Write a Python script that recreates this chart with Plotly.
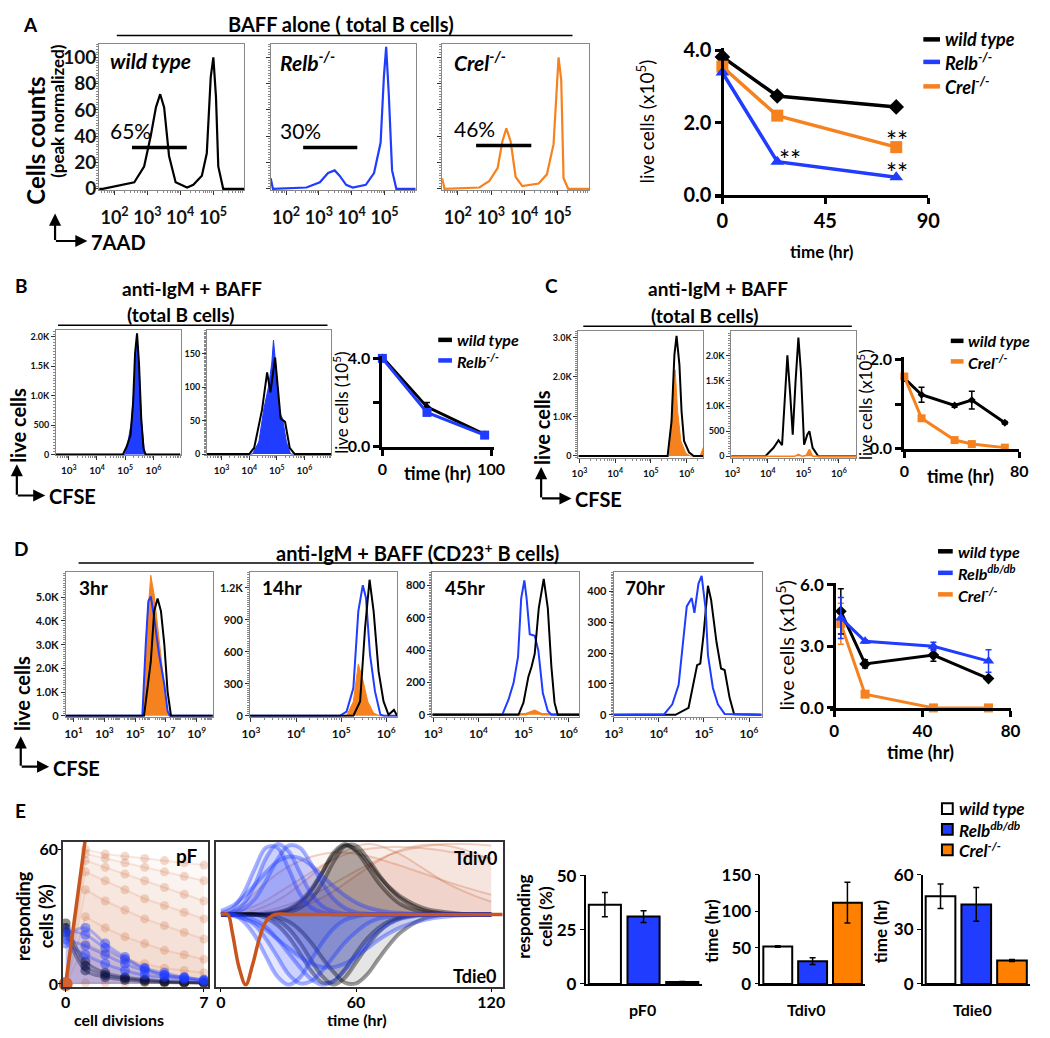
import numpy as np
import plotly.graph_objects as go

W, H = 1050, 1038
FONT = "Lato"
BLK = "#000000"
BLU = "#1f3cff"
ORG = "#f5821f"
BORG = "#ff8000"

# ======================= DATA =======================
# ---- Panel A : 7AAD histograms (x = log10 intensity, y = % of peak)
A_wt_x = [1.53, 1.64, 2.6, 2.9, 3.1, 3.26, 3.39, 3.51, 3.66, 3.86, 4.21, 4.4, 4.66, 4.81, 4.93, 5.01, 5.09, 5.16, 5.31, 5.95]
A_wt_y = [0, 0, 5, 17, 40, 62, 72, 62, 25, 5, 1, 3, 10, 27, 85, 100, 70, 17, 0, 0]
A_relb_x = [1.53, 1.6, 2.62, 3.03, 3.28, 3.48, 3.63, 3.83, 4.03, 4.43, 4.68, 4.88, 4.98, 5.05, 5.13, 5.23, 5.36, 5.95]
A_relb_y = [8, 0, 1, 5, 12, 14, 10, 3, 1, 3, 12, 35, 85, 108, 72, 14, 0, 0]
A_crel_x = [1.53, 1.6, 2.65, 2.95, 3.2, 3.34, 3.46, 3.59, 3.74, 3.94, 4.43, 4.68, 4.88, 4.98, 5.03, 5.11, 5.18, 5.32, 5.95]
A_crel_y = [8, 0, 1, 6, 16, 36, 46, 36, 9, 2, 4, 11, 34, 83, 100, 83, 8, 0, 0]
A_gate_lo = [2.53, 2.52, 2.55]
A_gate_hi = [4.20, 4.17, 4.21]
A_gate_y = [31.5, 31.5, 33]
A_pct = ["65%", "30%", "46%"]
A_geno = ["wild type", "Relb<sup>-/-</sup>", "Crel<sup>-/-</sup>"]

A_time = [0, 24, 76]
A_wt = [3.81, 2.73, 2.43]
A_relb = [3.38, 0.92, 0.49]
A_crel = [3.54, 2.19, 1.32]

# ---- Panel B : CFSE histograms + live cells
B1_wt_x = [2.55, 4.92, 5.05, 5.19, 5.28, 5.35, 5.42, 5.49, 5.57, 5.65, 5.72, 6.96]
B1_wt_y = [0, 0, 130, 330, 880, 1720, 2060, 1550, 600, 100, 0, 0]
B1_relb_x = [2.55, 5.0, 5.1, 5.22, 5.3, 5.38, 5.42, 5.49, 5.57, 5.68, 5.75, 6.96]
B1_relb_y = [0, 0, 220, 550, 1050, 1770, 1970, 1480, 600, 50, 0, 0]
B2_wt_x = [2.47, 4.0, 4.18, 4.35, 4.47, 4.65, 4.77, 4.94, 5.06, 5.14, 5.3, 5.47, 5.65, 6.98]
B2_wt_y = [0, 0, 9, 41, 67, 122, 92, 144, 92, 53, 48, 9, 0, 0]
B2_relb_x = [2.47, 4.12, 4.35, 4.53, 4.71, 4.82, 4.88, 4.98, 5.09, 5.21, 5.35, 5.5, 6.98]
B2_relb_y = [0, 0, 18, 67, 102, 136, 170, 126, 63, 53, 18, 0, 0]
B_time = [0, 41, 94]
B_wt = [4.05, 1.8, 0.55]
B_wt_err = [0, 0.2, 0.05]
B_relb = [4.0, 1.55, 0.52]

# ---- Panel C
C1_wt_x = [2.97, 5.47, 5.58, 5.66, 5.72, 5.8, 5.86, 5.93, 6.07, 6.2, 6.47]
C1_wt_y = [0, 0, 880, 2560, 3040, 2310, 1130, 380, 90, 0, 0]
C1_crel_x = [2.97, 5.52, 5.61, 5.68, 5.75, 5.84, 5.98, 6.1, 6.38, 6.47]
C1_crel_y = [0, 0, 1550, 2180, 1130, 380, 70, 0, 0, 220]
C2_wt_x = [2.97, 3.93, 4.16, 4.3, 4.4, 4.49, 4.55, 4.63, 4.7, 4.78, 4.86, 4.93, 5.02, 5.11, 5.17, 5.26, 5.42, 6.49]
C2_wt_y = [0, 0, 170, 320, 220, 1360, 2010, 1220, 430, 1490, 2360, 1690, 230, 430, 500, 170, 0, 0]
C2_crel_x = [2.97, 4.75, 4.86, 4.97, 5.08, 5.17, 5.26, 6.49]
C2_crel_y = [0, 0, 40, 0, 20, 140, 0, 0]
C_time = [0, 12, 35, 47, 70]
C_wt = [1.58, 1.21, 0.97, 1.09, 0.58]
C_wt_err = [0, 0.17, 0.04, 0.2, 0.03]
C_crel = [1.62, 0.68, 0.19, 0.10, 0.02]
C_crel_err = [0, 0.03, 0.03, 0.02, 0]

# ---- Panel D
D1_wt_x = [0.5, 5.58, 6.02, 6.24, 6.46, 6.68, 6.9, 7.11, 7.33, 10.05]
D1_wt_y = [0, 0, 2290, 4410, 4950, 4410, 3000, 1020, 0, 0]
D1_relb_x = [0.5, 5.47, 5.69, 5.86, 6.02, 6.24, 6.56, 6.9, 7.11, 7.25, 10.05]
D1_relb_y = [0, 0, 3000, 4830, 5040, 4130, 2580, 1310, 200, 0, 0]
D1_crel_x = [0.5, 5.5, 5.75, 6.02, 6.24, 6.46, 6.79, 7.07, 7.15, 10.05]
D1_crel_y = [0, 0, 3700, 5930, 5100, 3700, 1860, 170, 0, 0]
D2_wt_x = [2.98, 5.27, 5.42, 5.53, 5.63, 5.72, 5.83, 5.94, 6.05, 6.17, 6.24]
D2_wt_y = [0, 0, 134, 823, 1275, 979, 416, 134, 9, 55, 0]
D2_relb_x = [2.98, 4.97, 5.12, 5.27, 5.38, 5.48, 5.55, 5.64, 5.75, 5.87, 5.95, 6.24]
D2_relb_y = [0, 0, 40, 259, 979, 1224, 1105, 572, 228, 9, 0, 0]
D2_crel_x = [2.98, 5.12, 5.27, 5.38, 5.49, 5.59, 5.72, 5.85, 6.24]
D2_crel_y = [0, 0, 134, 486, 320, 134, 26, 0, 0]
D3_relb_x = [2.98, 4.53, 4.67, 4.78, 4.88, 4.95, 5.02, 5.07, 5.14, 5.25, 5.33, 5.43, 5.54, 5.62, 6.24]
D3_relb_y = [0, 0, 95, 196, 358, 721, 832, 721, 499, 489, 398, 135, 24, 0, 0]
D3_wt_x = [2.98, 4.89, 5.0, 5.11, 5.18, 5.25, 5.34, 5.45, 5.54, 5.62, 5.69, 5.76, 6.24]
D3_wt_y = [0, 0, 75, 236, 297, 378, 661, 842, 661, 297, 75, 0, 0]
D3_crel_x = [2.98, 5.05, 5.25, 5.4, 6.24]
D3_crel_y = [4, 4, 24, 4, 4]
D4_relb_x = [3.0, 4.12, 4.3, 4.44, 4.62, 4.73, 4.79, 4.88, 4.95, 5.04, 5.09, 5.2, 5.31, 5.46, 6.28]
D4_relb_y = [0, 2, 34, 97, 351, 378, 330, 425, 450, 341, 193, 87, 34, 3, 0]
D4_wt_x = [3.0, 4.37, 4.66, 4.77, 4.85, 4.92, 4.99, 5.09, 5.16, 5.28, 5.38, 5.46, 5.57, 5.67, 6.28]
D4_wt_y = [0, 0, 23, 108, 161, 166, 256, 418, 372, 235, 150, 145, 55, 2, 0]
D_hours = ["3hr", "14hr", "45hr", "70hr"]
D_time = [3, 14, 45, 70]
D_wt = [4.7, 2.14, 2.57, 1.43]
D_wt_err = [1.1, 0.2, 0.3, 0.05]
D_relb = [4.38, 3.24, 3.0, 2.28]
D_relb_err = [1.0, 0.08, 0.2, 0.55]
D_crel = [4.1, 0.67, 0.0, 0.0]
D_crel_err = [1.0, 0.05, 0, 0]

# ---- Panel E : model fits (representative trajectories)
E_div = [0, 1, 2, 3, 4, 5, 6, 7]
E_pf_crel = [[0, 60, 58, 57, 56, 55, 54, 53], [0, 58, 56, 54, 52, 50, 48, 46],
             [0, 55, 52, 49, 46, 43, 40, 37], [0, 50, 46, 42, 38, 35, 32, 29],
             [0, 42, 37, 33, 29, 26, 23, 20], [0, 30, 25, 21, 18, 15, 13, 11],
             [0, 18, 14, 11, 9, 7, 6, 5], [0, 0.5, 0.5, 0.5, 0.5, 0.5, 0.5, 0.5]]
E_pf_crel_med = [0, 65, 65, 65, 65, 65, 65, 65]
E_pf_wt = [[25, 8, 4, 2.5, 1.5, 1, 0.7, 0.5], [27, 10, 5, 3, 2, 1.2, 0.8, 0.5], [23, 6, 3, 1.8, 1, 0.7, 0.5, 0.3]]
E_pf_relb = [[22, 25, 18, 12, 7, 4, 3, 1.5], [20, 17, 13, 9, 6, 4, 2.5, 1.5],
             [24, 22, 16, 11, 7, 5, 3, 2], [18, 13, 9, 6, 4, 3, 2, 1]]
E_t = [0, 5, 10, 15, 20, 25, 30, 35, 40, 45, 50, 55, 60, 65, 70, 75, 80, 90, 100, 110, 120]
E_div_relb = [[0.02, 0.08, 0.3, 0.65, 0.95, 0.95, 0.65, 0.3, 0.1, 0.03, 0, 0, 0, 0, 0, 0, 0, 0, 0, 0, 0],
              [0, 0.03, 0.15, 0.42, 0.8, 1.0, 0.9, 0.6, 0.3, 0.12, 0.04, 0.01, 0, 0, 0, 0, 0, 0, 0, 0, 0],
              [0, 0.02, 0.08, 0.22, 0.48, 0.78, 0.98, 0.95, 0.72, 0.45, 0.22, 0.09, 0.03, 0.01, 0, 0, 0, 0, 0, 0, 0],
              [0.05, 0.12, 0.25, 0.42, 0.6, 0.75, 0.82, 0.8, 0.7, 0.55, 0.4, 0.27, 0.17, 0.1, 0.06, 0.03, 0.02, 0, 0, 0, 0]]
E_div_wt = [[0, 0, 0, 0, 0, 0.02, 0.06, 0.15, 0.33, 0.6, 0.88, 1.0, 0.9, 0.68, 0.45, 0.27, 0.14, 0.03, 0, 0, 0],
            [0, 0, 0, 0, 0, 0.01, 0.03, 0.09, 0.22, 0.45, 0.75, 0.97, 0.98, 0.8, 0.57, 0.37, 0.22, 0.06, 0.01, 0, 0],
            [0, 0, 0, 0, 0.01, 0.03, 0.08, 0.18, 0.36, 0.6, 0.85, 0.98, 0.92, 0.75, 0.55, 0.38, 0.25, 0.09, 0.03, 0, 0]]
E_div_crel = [[0, 0, 0.02, 0.06, 0.12, 0.2, 0.3, 0.42, 0.55, 0.68, 0.8, 0.9, 0.97, 1.0, 0.98, 0.92, 0.85, 0.65, 0.45, 0.3, 0.18],
              [0, 0, 0, 0.02, 0.05, 0.09, 0.14, 0.2, 0.27, 0.35, 0.44, 0.53, 0.62, 0.7, 0.78, 0.85, 0.9, 0.97, 1.0, 1.0, 0.98],
              [0, 0.05, 0.15, 0.3, 0.45, 0.58, 0.68, 0.76, 0.82, 0.86, 0.88, 0.88, 0.86, 0.83, 0.79, 0.74, 0.69, 0.58, 0.47, 0.37, 0.28],
              [0, 0, 0, 0, 0.01, 0.03, 0.06, 0.1, 0.16, 0.24, 0.33, 0.44, 0.55, 0.66, 0.76, 0.85, 0.92, 0.99, 0.98, 0.9, 0.78],
              [0, 0.02, 0.06, 0.12, 0.2, 0.3, 0.4, 0.5, 0.6, 0.7, 0.78, 0.85, 0.9, 0.93, 0.95, 0.96, 0.96, 0.94, 0.9, 0.85, 0.8]]
E_die_relb = [[0, 0, -0.05, -0.15, -0.35, -0.6, -0.85, -0.98, -0.95, -0.8, -0.6, -0.4, -0.25, -0.13, -0.06, -0.03, -0.01, 0, 0, 0, 0],
              [0, 0, -0.02, -0.08, -0.18, -0.35, -0.55, -0.75, -0.92, -1.0, -0.95, -0.8, -0.6, -0.4, -0.24, -0.13, -0.06, -0.01, 0, 0, 0],
              [0, -0.02, -0.06, -0.12, -0.22, -0.35, -0.48, -0.6, -0.7, -0.75, -0.75, -0.7, -0.6, -0.48, -0.36, -0.26, -0.18, -0.08, -0.03, -0.01, 0],
              [0, 0, -0.1, -0.3, -0.6, -0.88, -1.0, -0.9, -0.65, -0.4, -0.2, -0.08, -0.03, 0, 0, 0, 0, 0, 0, 0, 0]]
E_die_wt = [[0, 0, 0, 0, -0.02, -0.08, -0.2, -0.4, -0.65, -0.88, -1.0, -0.9, -0.68, -0.45, -0.25, -0.12, -0.05, 0, 0, 0, 0],
            [0, 0, 0, 0, -0.05, -0.15, -0.32, -0.55, -0.8, -0.97, -0.95, -0.78, -0.55, -0.34, -0.19, -0.09, -0.04, 0, 0, 0, 0],
            [0, 0, 0, 0, -0.01, -0.04, -0.1, -0.22, -0.4, -0.62, -0.82, -0.97, -0.98, -0.85, -0.63, -0.42, -0.25, -0.06, 0, 0, 0]]
E_die_crel_t = [0, 3, 5, 8, 11, 14, 17, 20, 24, 30, 125]
E_die_crel_y = [0, 0, -0.25, -0.75, -1.0, -0.72, -0.35, -0.1, 0, 0, 0]

E_params = ["pF0", "Tdiv0", "Tdie0"]
E_pF0 = [36.6, 31.1, 0.9]
E_pF0_err = [5.6, 2.7, 0.2]
E_Tdiv0 = [51.6, 31.4, 111.9]
E_Tdiv0_err = [1.0, 4.5, 28]
E_Tdie0 = [48.3, 43.8, 12.9]
E_Tdie0_err = [6.7, 9.3, 0.5]
E_legend = ["wild type", "Relb<sup>db/db</sup>", "Crel<sup>-/-</sup>"]

# ======================= HELPERS =======================
fig = go.Figure()
layout = {}
annotations = []
shapes = []
counter = [0]


def new_axes(box, xcfg, ycfg, yfree=None):
    counter[0] += 1
    n = counter[0]
    s = "" if n == 1 else str(n)
    x0, y0, x1, y1 = box
    xa = dict(domain=[x0 / W, x1 / W], anchor="y" + s, showgrid=False, zeroline=False, tickangle=0)
    ya = dict(domain=[1 - y1 / H, 1 - y0 / H], anchor="x" + s, showgrid=False, zeroline=False)
    xa.update(xcfg)
    ya.update(ycfg)
    if yfree is not None:
        ya["anchor"] = "free"
        ya["position"] = yfree / W
    layout["xaxis" + s] = xa
    layout["yaxis" + s] = ya
    return "x" + s, "y" + s


def fnt(size, bold=True, color="black"):
    return dict(family=FONT, size=size, color=color, weight="bold" if bold else "normal")


def log_minor(lo, hi):
    vals = []
    for d in range(int(np.floor(lo)), int(np.ceil(hi)) + 1):
        for k in range(2, 10):
            v = k * 10.0 ** d
            if lo <= np.log10(v) <= hi:
                vals.append(v)
    return vals


def hist_axes(box, xr, xt, yr, yt, ytt, xfs, yfs, yshow=True, standoff=2, ystandoff=0):
    xcfg = dict(type="log", range=xr, tickmode="array", tickvals=[10.0 ** e for e in xt],
                ticktext=[f"10<sup>{e}</sup>" for e in xt], ticks="outside", ticklen=4,
                tickcolor="#333", showline=True, mirror=True, linecolor="#888", linewidth=1,
                tickfont=fnt(xfs, True, "#111"), ticklabelstandoff=standoff,
                minor=dict(tickmode="array", tickvals=log_minor(*xr), ticks="outside", ticklen=2, tickcolor="#888"))
    ycfg = dict(range=yr, tickmode="array", tickvals=yt, ticktext=ytt, showticklabels=yshow,
                ticks="outside", ticklen=4, tickcolor="#333", showline=True, mirror=True,
                linecolor="#888", linewidth=1, tickfont=fnt(yfs, True, "#111"), ticklabelstandoff=ystandoff,
                minor=dict(ticks="outside", ticklen=2, tickcolor="#888", nticks=20))
    return new_axes(box, xcfg, ycfg)


def line_axes(box, xr, xt, xtt, yr, yt, ytt, fs, yfree=None, lw=3):
    common = dict(showline=True, linewidth=lw, linecolor="black", ticks="outside", ticklen=6,
                  tickwidth=lw, tickcolor="black", tickfont=fnt(fs), tickmode="array")
    xcfg = dict(range=xr, tickvals=xt, ticktext=xtt, **common)
    ycfg = dict(range=yr, tickvals=yt, ticktext=ytt, **common)
    return new_axes(box, xcfg, ycfg, yfree)


def text(t, x, y, size, bold=True, italic=False, xanchor="center", yanchor="middle", angle=0, color="black"):
    if italic:
        t = f"<i>{t}</i>"
    annotations.append(dict(text=t, x=x / W, y=1 - y / H, xref="paper", yref="paper", showarrow=False,
                            xanchor=xanchor, yanchor=yanchor, textangle=angle, font=fnt(size, bold, color)))


def hline(x0, x1, y, width=1.5, color="black"):
    shapes.append(dict(type="line", xref="paper", yref="paper", x0=x0 / W, x1=x1 / W,
                       y0=1 - y / H, y1=1 - y / H, line=dict(color=color, width=width)))


def axis_arrows(cx, cy, top, right, label):
    annotations.append(dict(text="", x=cx / W, y=1 - top / H, xref="paper", yref="paper", showarrow=True,
                            ax=0, ay=cy - top, arrowhead=2, arrowsize=1.1, arrowwidth=2.2, arrowcolor="black"))
    annotations.append(dict(text="", x=right / W, y=1 - cy / H, xref="paper", yref="paper", showarrow=True,
                            ax=cx - right, ay=0, arrowhead=2, arrowsize=1.1, arrowwidth=2.2, arrowcolor="black"))
    text(label, right + 2, cy + 1, 20, xanchor="left")


def lx(v):
    return [10.0 ** e for e in v]


def curve(xa, ya, xs, ys, color, width=2, fill=None):
    kw = dict(x=lx(xs), y=ys, mode="lines", line=dict(color=color, width=width), xaxis=xa, yaxis=ya,
              showlegend=False, hoverinfo="skip")
    if fill:
        kw.update(fill="tozeroy", fillcolor=fill)
    fig.add_trace(go.Scatter(**kw))


def legend_line(x0, x1, y, color, label, size=17):
    hline(x0, x1, y, width=4.5, color=color)
    text(label, x1 + 3, y, size, italic=True, xanchor="left")


# ======================= PANEL A =======================
text("A", 22, 14, 19)
text("BAFF alone ( total B cells)", 339, 13, 20)
hline(110, 575, 25)
text("Cells counts", 27, 132, 24, angle=-90)
text("(peak normalized)", 50, 102, 17, angle=-90)
axis_arrows(47, 235, 207, 80, "7AAD")

A_boxes = [(92, 34, 240, 183), (267, 34, 415, 183), (442, 34, 592, 183)]
A_curves = [(A_wt_x, A_wt_y, BLK), (A_relb_x, A_relb_y, BLU), (A_crel_x, A_crel_y, ORG)]
A_pct_pos = [(124, 122), (297, 122), (475, 120)]
A_lab_x = [101, 274, 452]
for i in range(3):
    xa, ya = hist_axes(A_boxes[i], [1.53, 5.95], [2, 3, 4, 5], [-1, 110], [0, 20, 40, 60, 80, 100],
                       ["0", "20", "40", "60", "80", "100"], 18, 19, yshow=(i == 0), standoff=7, ystandoff=-6)
    cx, cy, col = A_curves[i]
    curve(xa, ya, cx, cy, col, 2.2)
    fig.add_trace(go.Scatter(x=lx([A_gate_lo[i], A_gate_hi[i]]), y=[A_gate_y[i]] * 2, mode="lines",
                             line=dict(color="black", width=3.5), xaxis=xa, yaxis=ya, showlegend=False))
    text(A_pct[i], A_pct_pos[i][0], A_pct_pos[i][1], 21, bold=False)
    text(A_geno[i], A_lab_x[i], 51, 21, italic=True, xanchor="left")

xa, ya = line_axes((720, 38, 938, 188), [-3.4, 90], [0, 45, 90], ["0", "45", "90"],
                   [0, 4.05], [0, 2, 4], ["0.0", "2.0", "4.0"], 20, yfree=728)
for vals, col, sym in [(A_wt, BLK, "diamond"), (A_crel, ORG, "square"), (A_relb, BLU, "triangle-up")]:
    fig.add_trace(go.Scatter(x=A_time, y=vals, mode="lines+markers", line=dict(color=col, width=3.5),
                             marker=dict(symbol=sym, size=12, color=col), cliponaxis=False,
                             xaxis=xa, yaxis=ya, showlegend=False))
text("live cells (x10<sup>5</sup>)", 650, 113, 19, bold=False, angle=-90)
text("time (hr)", 830, 246, 17)
for (sx, sy) in [(797, 147), (906, 128), (906, 161)]:
    text("**", sx, sy + 5, 26, bold=False)
legend_line(933, 950, 29, BLK, "wild type", 18)
legend_line(933, 950, 52, BLU, "Relb<sup>-/-</sup>", 18)
legend_line(933, 950, 77, ORG, "Crel<sup>-/-</sup>", 18)

# ======================= PANEL B =======================
text("B", 13, 280, 19)
text("anti-IgM + BAFF", 187, 283, 19)
text("(total B cells)", 175, 310, 19)
hline(50, 325, 321)
text("live cells", 9, 423, 20, angle=-90)
axis_arrows(8, 495, 463, 37, "CFSE")

xa, ya = hist_axes((48, 326, 175, 454), [2.55, 6.96], [3, 4, 5, 6], [-17, 2117],
                   [0, 500, 1000, 1500, 2000], ["0", "500", "1.0K", "1.5K", "2.0K"], 10, 9)
curve(xa, ya, B1_relb_x, B1_relb_y, BLU, 1, fill=BLU)
curve(xa, ya, B1_wt_x, B1_wt_y, BLK, 2)
xa, ya = hist_axes((202, 326, 329, 454), [2.47, 6.98], [3, 4, 5, 6], [-2, 185],
                   [0, 50, 100, 150], ["0", "50", "100", "150"], 10, 9)
curve(xa, ya, B2_relb_x, B2_relb_y, BLU, 1, fill=BLU)
curve(xa, ya, B2_wt_x, B2_wt_y, BLK, 2)

xa, ya = line_axes((381, 352, 495, 445), [0, 102.7], [0, 100], ["0", "100"],
                   [0, 4.13], [0, 2, 4], ["0.0", "", "4.0"], 16)
fig.add_trace(go.Scatter(x=B_time, y=B_wt, mode="lines+markers", line=dict(color=BLK, width=3),
                         marker=dict(symbol="diamond", size=6, color=BLK), cliponaxis=False,
                         error_y=dict(type="data", array=B_wt_err, color=BLK, thickness=1.5, width=3),
                         xaxis=xa, yaxis=ya, showlegend=False))
fig.add_trace(go.Scatter(x=B_time, y=B_relb, mode="lines+markers", line=dict(color=BLU, width=3),
                         marker=dict(symbol="square", size=9, color=BLU), cliponaxis=False,
                         xaxis=xa, yaxis=ya, showlegend=False))
text("live cells (10<sup>5</sup>)", 338, 400, 17, bold=False, angle=-90)
text("time (hr)", 437, 472, 18)
legend_line(438, 452, 336, BLK, "wild type", 16)
legend_line(438, 452, 357, BLU, "Relb<sup>-/-</sup>", 16)

# ======================= PANEL C =======================
text("C", 554, 280, 19)
text("anti-IgM + BAFF", 723, 284, 19)
text("(total B cells)", 710, 311, 19)
hline(586, 860, 322)
text("live cells", 544, 426, 20, angle=-90)
axis_arrows(543, 498, 466, 574, "CFSE")

xa, ya = hist_axes((581, 327, 708.5, 457), [2.97, 6.47], [3, 4, 5, 6], [-60, 3160],
                   [0, 1000, 2000, 3000], ["0", "1.0K", "2.0K", "3.0K"], 10, 9)
curve(xa, ya, C1_crel_x, C1_crel_y, ORG, 1, fill=ORG)
curve(xa, ya, C1_wt_x, C1_wt_y, BLK, 2)
xa, ya = hist_axes((737, 327, 864.6, 457), [2.97, 6.49], [3, 4, 5, 6], [-40, 2490],
                   [0, 500, 1000, 1500, 2000], ["0", "500", "1.0K", "1.5K", "2.0K"], 10, 9)
curve(xa, ya, C2_wt_x, C2_wt_y, BLK, 2)
curve(xa, ya, C2_crel_x, C2_crel_y, ORG, 1.5, fill=ORG)

xa, ya = line_axes((913.6, 353, 1030.8, 447), [0, 80], [0, 80], ["0", "80"],
                   [0, 2.07], [0, 1, 2], ["0.0", "", "2.0"], 16)
fig.add_trace(go.Scatter(x=C_time, y=C_wt, mode="lines+markers", line=dict(color=BLK, width=3),
                         marker=dict(symbol="diamond", size=6, color=BLK), cliponaxis=False,
                         error_y=dict(type="data", array=C_wt_err, color=BLK, thickness=1.5, width=3),
                         xaxis=xa, yaxis=ya, showlegend=False))
fig.add_trace(go.Scatter(x=C_time, y=C_crel, mode="lines+markers", line=dict(color=ORG, width=3),
                         marker=dict(symbol="square", size=8, color=ORG), cliponaxis=False,
                         error_y=dict(type="data", array=C_crel_err, color=ORG, thickness=1.5, width=3),
                         xaxis=xa, yaxis=ya, showlegend=False))
text("live cells (x10<sup>5</sup>)", 873, 402, 17, bold=False, angle=-90)
text("time (hr)", 971, 475, 18)
legend_line(961, 974, 337, BLK, "wild type", 16)
legend_line(961, 974, 358, ORG, "Crel<sup>-/-</sup>", 16)

# ======================= PANEL D =======================
text("D", 12, 549, 19)
text("anti-IgM + BAFF (CD23<sup>+</sup> B cells)", 417, 553, 20)
hline(71, 760, 564)
text("live cells", 14, 697, 20, angle=-90)
axis_arrows(12, 772, 741, 41, "CFSE")

xa, ya = hist_axes((58, 573, 208, 721), [0.5, 10.05], [1, 3, 5, 7, 9], [-41, 6074],
                   [0, 1000, 2000, 3000, 4000, 5000], ["0", "1.0K", "2.0K", "3.0K", "4.0K", "5.0K"], 12, 11)
curve(xa, ya, D1_crel_x, D1_crel_y, ORG, 1, fill=ORG)
curve(xa, ya, D1_relb_x, D1_relb_y, BLU, 2)
curve(xa, ya, D1_wt_x, D1_wt_y, BLK, 2)
xa, ya = hist_axes((246, 573, 396, 721), [2.98, 6.24], [3, 4, 5, 6], [-9, 1349],
                   [0, 300, 600, 900, 1200], ["0", "300", "600", "900", "1.2K"], 12, 11)
curve(xa, ya, D2_crel_x, D2_crel_y, ORG, 1, fill=ORG)
curve(xa, ya, D2_relb_x, D2_relb_y, BLU, 2)
curve(xa, ya, D2_wt_x, D2_wt_y, BLK, 2)
xa, ya = hist_axes((432, 573, 582, 721), [2.98, 6.24], [3, 4, 5, 6], [-12, 885],
                   [0, 200, 400, 600, 800], ["0", "200", "400", "600", "800"], 12, 11)
curve(xa, ya, D3_crel_x, D3_crel_y, ORG, 2.5, fill=ORG)
curve(xa, ya, D3_relb_x, D3_relb_y, BLU, 2)
curve(xa, ya, D3_wt_x, D3_wt_y, BLK, 2)
xa, ya = hist_axes((617, 573, 768, 721), [3.0, 6.28], [3, 4, 5, 6], [-6, 463],
                   [0, 100, 200, 300, 400], ["0", "100", "200", "300", "400"], 12, 11)
curve(xa, ya, D4_wt_x, D4_wt_y, BLK, 2)
curve(xa, ya, D4_relb_x, D4_relb_y, BLU, 2)
for lab, lxp in zip(D_hours, [69, 256, 443, 627]):
    text(lab, lxp, 589, 19, xanchor="left")

xa, ya = line_axes((838, 584, 1022, 712), [-1.8, 80], [0, 40, 80], ["0", "40", "80"],
                   [0, 6.1], [0, 3, 6], ["0.0", "3.0", "6.0"], 17, yfree=842)
for vals, err, col, sym, sz in [(D_crel, D_crel_err, ORG, "square", 9), (D_wt, D_wt_err, BLK, "diamond", 9),
                                (D_relb, D_relb_err, BLU, "triangle-up", 10)]:
    fig.add_trace(go.Scatter(x=D_time, y=vals, mode="lines+markers", line=dict(color=col, width=3),
                             marker=dict(symbol=sym, size=sz, color=col), cliponaxis=False,
                             error_y=dict(type="data", array=err, color=col, thickness=1.5, width=3),
                             xaxis=xa, yaxis=ya, showlegend=False))
text("live cells (x10<sup>5</sup>)", 792, 648, 20, bold=False, angle=-90)
text("time (hr)", 930, 757, 18)
legend_line(948, 963, 552, BLK, "wild type", 16)
legend_line(948, 963, 574, BLU, "Relb<sup>db/db</sup>", 16)
legend_line(948, 963, 596, ORG, "Crel<sup>-/-</sup>", 16)

# ======================= PANEL E =======================
text("E", 12, 817, 19)
box_common = dict(showline=True, mirror=True, linecolor="#333", linewidth=1.5, ticks="outside",
                  ticklen=3, tickcolor="black", tickfont=fnt(16), tickmode="array", ticklabelstandoff=-3)
xa, ya = new_axes((55, 849, 203, 997), dict(range=[-0.14, 7.2], tickvals=[0, 7], ticktext=["0", "7"], **box_common),
                  dict(range=[-1.3, 63.3], tickvals=[0, 60], ticktext=["0", "60"], **box_common))
for ys in E_pf_crel:
    fig.add_trace(go.Scatter(x=E_div, y=ys, mode="lines+markers", line=dict(color="rgba(200,85,30,0.13)", width=2),
                             marker=dict(size=9, color="rgba(200,85,30,0.22)"), fill="tozeroy",
                             fillcolor="rgba(200,85,30,0.035)", xaxis=xa, yaxis=ya, showlegend=False))
for ys in E_pf_wt:
    fig.add_trace(go.Scatter(x=E_div, y=ys, mode="lines+markers", line=dict(color="rgba(0,0,0,0.35)", width=3, shape="spline"),
                             marker=dict(size=10, color="rgba(0,0,0,0.45)"), xaxis=xa, yaxis=ya, showlegend=False))
for ys in E_pf_relb:
    fig.add_trace(go.Scatter(x=E_div, y=ys, mode="lines+markers", line=dict(color="rgba(31,60,255,0.3)", width=3, shape="spline"),
                             marker=dict(size=10, color="rgba(31,60,255,0.45)"), fill="tozeroy",
                             fillcolor="rgba(31,60,255,0.07)", xaxis=xa, yaxis=ya, showlegend=False))
fig.add_trace(go.Scatter(x=E_div, y=E_pf_crel_med, mode="lines", line=dict(color="#c8551e", width=3.5),
                         xaxis=xa, yaxis=ya, showlegend=False))
fig.add_trace(go.Scatter(x=E_div[:1], y=E_pf_crel_med[:1], mode="markers", marker=dict(size=14, color="#d8602a"),
                         cliponaxis=False, xaxis=xa, yaxis=ya, showlegend=False))
text("pF", 182, 863, 19)
text("responding<br>cells (%)", 26, 924, 18, angle=-90)
text("cell divisions", 112, 1030, 16)

xa, ya = new_axes((211, 849, 504.5, 997),
                  dict(range=[-2.3, 125.4], tickvals=[0, 60, 120], ticktext=["0", "60", "120"], **box_common),
                  dict(range=[-1.03, 1.03], tickvals=[], ticktext=[], showline=True, mirror=True,
                       linecolor="#333", linewidth=1.5))
for group, rgb, lw, la, fa in [(E_div_crel, "200,85,30", 2, 0.25, 0.05), (E_div_wt, "0,0,0", 4, 0.4, 0.1),
                               (E_div_relb, "31,60,255", 4, 0.4, 0.12), (E_die_wt, "0,0,0", 4, 0.4, 0.1),
                               (E_die_relb, "31,60,255", 4, 0.4, 0.12)]:
    for ys in group:
        fig.add_trace(go.Scatter(x=E_t, y=ys, mode="lines", line=dict(color=f"rgba({rgb},{la})", width=lw, shape="spline"),
                                 fill="tozeroy", fillcolor=f"rgba({rgb},{fa})", xaxis=xa, yaxis=ya,
                                 showlegend=False, hoverinfo="skip"))
fig.add_trace(go.Scatter(x=E_die_crel_t, y=E_die_crel_y, mode="lines", line=dict(color="#c8551e", width=3.5, shape="spline"),
                         xaxis=xa, yaxis=ya, showlegend=False))
text("Tdiv0", 500, 865, 18, xanchor="right")
text("Tdie0", 500, 986, 18, xanchor="right")
text("time (hr)", 355, 1030, 16)

bar_colors = ["white", BLU, BORG]
bar_specs = [((588.3, 882.7, 706.7, 994), E_pF0, E_pF0_err, [0, 50.3], [0, 25, 50], 646, 536, "responding<br>cells (%)"),
             ((766.7, 882.7, 873.3, 994), E_Tdiv0, E_Tdiv0_err, [0, 150], [0, 50, 100, 150], 814, 716, "time (hr)"),
             ((932.3, 882.7, 1041.7, 994), E_Tdie0, E_Tdie0_err, [0, 60], [0, 30, 60], 983, 889, "time (hr)")]
for (box, vals, errs, yr, yt, labx, titx, tit), pname in zip(bar_specs, E_params):
    axc = dict(showline=True, linecolor="black", linewidth=1.5, tickfont=fnt(17))
    xa, ya = new_axes(box, dict(range=[-0.5, 2.5], showticklabels=False, ticks="", **axc),
                      dict(range=yr, tickmode="array", tickvals=yt, ticktext=[str(v) for v in yt],
                           ticks="outside", ticklen=4, tickcolor="black", **axc))
    fig.add_trace(go.Bar(x=[0, 1, 2], y=vals, width=0.83, marker=dict(color=bar_colors, line=dict(color="black", width=2)),
                         error_y=dict(type="data", array=errs, color="black", thickness=1.5, width=3),
                         xaxis=xa, yaxis=ya, showlegend=False))
    text(pname, labx, 1020, 16)
    text(tit, titx, 925 if "<br>" in tit else 940, 17, angle=-90)

for i, (lab, col) in enumerate(zip(E_legend, bar_colors)):
    yc = 815 + 21 * i
    shapes.append(dict(type="rect", xref="paper", yref="paper", x0=952 / W, x1=963 / W,
                       y0=1 - (yc + 5.5) / H, y1=1 - (yc - 5.5) / H, fillcolor=col,
                       line=dict(color="black", width=2)))
    text(lab, 967, yc, 17, italic=True, xanchor="left")

# ======================= LAYOUT =======================
fig.update_layout(width=W, height=H, margin=dict(l=0, r=0, t=0, b=0), paper_bgcolor="white",
                  plot_bgcolor="rgba(0,0,0,0)", showlegend=False, annotations=annotations, shapes=shapes,
                  font=dict(family=FONT, color="black"), **layout)
fig.write_html("out.html", config={"displayModeBar": False},
               post_script="document.body.style.margin='0px';")
